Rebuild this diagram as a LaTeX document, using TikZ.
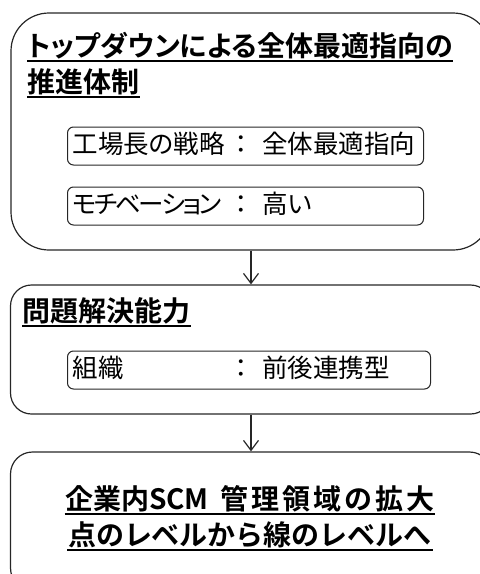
\documentclass[tikz,border=0pt]{standalone}
\usepackage{fontspec}
\newfontfamily\jp{Noto Sans CJK JP}[RawFeature=+palt]
\newfontfamily\jpb{Noto Sans CJK JP Bold}
\newfontfamily\jpbp{Noto Sans CJK JP Bold}[RawFeature=+palt]
\newcommand\lblf{\jp\fontsize{25.5}{27}\selectfont}
\newcommand\myks{\hspace{3pt}}
\newcommand\myng{\hspace{-2.4pt}}
\usetikzlibrary{arrows.meta}
\begin{document}
\begin{tikzpicture}[x=1pt,y=-1pt,
  line width=1.2pt,
  bigbox/.style={draw=black!85, rounded corners=#1, inner sep=0pt},
  innerbox/.style={draw=black!85, line width=1pt, rounded corners=6pt, inner xsep=5pt, inner ysep=0pt, minimum height=38pt, text height=19pt, text depth=4pt, anchor=west, align=left, font=\lblf},
  ttl/.style={font=\jpbp\fontsize{28}{30}\selectfont, inner sep=0pt, anchor=base west},
  ttlc/.style={font=\jpb\fontsize{28}{30}\selectfont, inner sep=0pt, anchor=base},
  uline/.style={draw=black, line width=1.6pt},
  arr/.style={draw=black!85, line width=1.2pt, -{Straight Barb[length=10pt,width=15pt,line width=1.2pt]}}
]
\useasboundingbox (0,0) rectangle (480,574);
% boxes
\node[bigbox=38pt, minimum width=480pt, minimum height=237pt] (b1) at (251,131.5) {};
\node[bigbox=21pt, minimum width=481pt, minimum height=129pt] (b2) at (251,349.5) {};
\node[bigbox=22pt, minimum width=481pt, minimum height=138pt] (b3) at (251,521) {};
% box 1 title
\node[ttl] (t1a) at (27,56) {トップダウンによる全体最適指向の};
\node[ttl] (t1b) at (27,92) {推進体制};
\draw[uline] ([yshift=-5pt]t1a.base west) -- ([yshift=-5pt]t1a.base east);
\draw[uline] ([yshift=-5pt]t1b.base west) -- ([yshift=-5pt]t1b.base east);
% inner boxes
\node[innerbox, text width=346pt] (i1) at (67,146) {\makebox[157pt][l]{工場長の戦略}\makebox[24pt]{：}\hspace{9pt}全体最適指向};
\node[innerbox, text width=346pt] (i2) at (67,206) {\makebox[157pt][l]{モ\myng チ\myng ベ\myng ー\myng シ\myng ョ\myng ン}\makebox[24pt]{：}\hspace{9pt}高い};
% box 2
\node[ttl] (t2) at (22,321) {問題解決能力};
\draw[uline] ([yshift=-5pt]t2.base west) -- ([yshift=-5pt]t2.base east);
\node[innerbox, text width=353pt] (i3) at (67,370) {\makebox[157pt][l]{組織}\makebox[24pt]{：}\hspace{9pt}前後連携型};
% box 3
\node[ttlc] (t3a) at (250,509) {企業内SCM\hspace{12pt}管\myks 理\myks 領\myks 域\myks の\myks 拡\myks 大};
\node[ttlc] (t3b) at (250,545) {点のレベルから線のレベルへ};
\draw[uline] ([yshift=-5pt]t3a.base west) -- ([yshift=-5pt]t3a.base east);
\draw[uline] ([yshift=-5pt]t3b.base west) -- ([yshift=-5pt]t3b.base east);
% arrows
\draw[arr] (b1.south) -- (b2.north);
\draw[arr] (b2.south) -- (b3.north);
\end{tikzpicture}
\end{document}
